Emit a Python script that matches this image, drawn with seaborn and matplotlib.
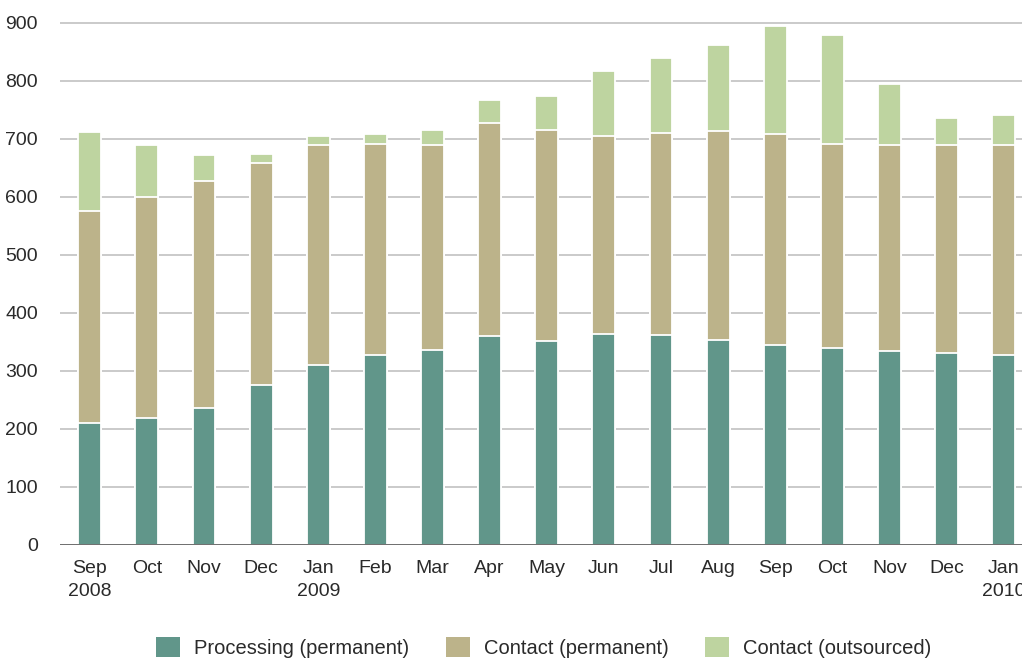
import matplotlib
matplotlib.use("Agg")
import matplotlib.pyplot as plt
from matplotlib.patches import Patch
import numpy as np
import pandas as pd
import seaborn as sns

months = ["Sep\n2008", "Oct", "Nov", "Dec", "Jan\n2009", "Feb", "Mar", "Apr", "May",
          "Jun", "Jul", "Aug", "Sep", "Oct", "Nov", "Dec", "Jan\n2010"]
processing_perm = [210, 219, 236, 276, 311, 327, 337, 361, 352, 364, 362, 353, 345, 339, 334, 331, 328]
contact_perm = [365, 381, 391, 382, 378, 365, 353, 366, 364, 342, 349, 360, 364, 353, 356, 358, 362]
contact_out = [137, 90, 45, 16, 16, 16, 25, 40, 58, 111, 128, 149, 186, 187, 105, 48, 52]

series_names = ["Processing (permanent)", "Contact (permanent)", "Contact (outsourced)"]
colors = ["#61968a", "#bcb38a", "#bed4a0"]

sns.set_style("white")
plt.rcParams["font.family"] = ["Liberation Sans", "DejaVu Sans"]

proc = np.array(processing_perm)
cperm = proc + np.array(contact_perm)
total = cperm + np.array(contact_out)

df = pd.DataFrame({"month": range(len(months)), "proc": proc, "cperm": cperm, "total": total})

fig = plt.figure(figsize=(10.22, 6.59), dpi=100)
ax = fig.add_axes([0.0587, 0.173, 0.9413, 0.7965])

# Stacked bars drawn as overlapping cumulative totals, top layer first
for col, c in zip(["total", "cperm", "proc"], colors[::-1]):
    sns.barplot(data=df, x="month", y=col, color=c, width=0.4, saturation=1,
                edgecolor="white", linewidth=1.3, ax=ax, zorder=3)

ax.set_ylim(0, 905)
ax.set_xlim(-0.52, 16.32)
ax.set_yticks(range(0, 901, 100))
ax.set_xticks(range(len(months)))
ax.set_xticklabels(months, fontsize=14, color="#2a2a2a", linespacing=1.45)
ax.tick_params(axis="y", labelsize=14, labelcolor="#2a2a2a", length=0, pad=16)
ax.tick_params(axis="x", length=0, pad=11)
ax.set_xlabel("")
ax.set_ylabel("")

for v in range(100, 901, 100):
    ax.axhline(v, color="#c6c6c6", linewidth=1.3, zorder=1)
ax.axhline(0, color="#6e6e6e", linewidth=1.4, zorder=4)

for s in ax.spines.values():
    s.set_visible(False)

handles = [Patch(facecolor=c, edgecolor="none") for c in colors]
fig.legend(handles, series_names, loc="center", bbox_to_anchor=(0.532, 0.018),
           ncol=3, frameon=False, fontsize=14.5, handlelength=1.2, handleheight=1.2,
           handletextpad=0.7, columnspacing=1.8, labelcolor="#2a2a2a")

fig.savefig("out.png", dpi=100)
